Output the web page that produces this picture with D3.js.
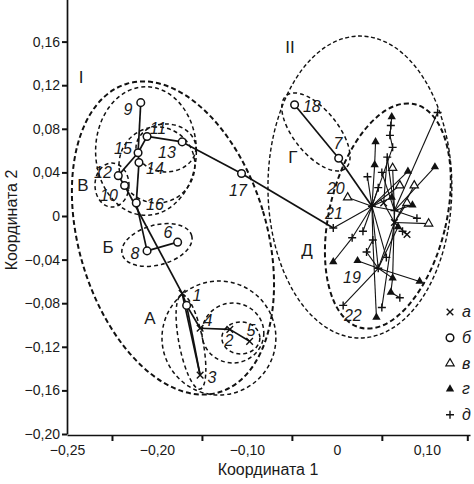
<!DOCTYPE html>
<html>
<head>
<meta charset="utf-8">
<script src="https://cdn.jsdelivr.net/npm/d3@7"></script>
<style>
  body { margin: 0; background: #fff; }
  svg { font-family: "Liberation Sans", Arial, sans-serif; }
</style>
</head>
<body>
<svg id="chart" width="474" height="484"></svg>
<script>
// axis ticks (the x labels sit half a step off the tick marks, as in the source figure)
var xTickValues = [-0.30, -0.20, -0.10, 0, 0.10];
var xTickLabels = ["−0,25", "−0,20", "−0,10", "0", "0,10"];
var xMarkTicks = [-0.25, -0.15, -0.05, 0.05, 0.145];
var yTickValues = [0.16, 0.12, 0.08, 0.04, 0, -0.04, -0.08, -0.12, -0.16, -0.20];
var yTickLabels = ["0,16", "0,12", "0,08", "0,04", "0", "−0,04", "−0,08", "−0,12", "−0,16", "−0,20"];

// marker types: a = ×, b = o, v = open triangle, g = filled triangle, d = +
var legendKeys = ["a", "b", "v", "g", "d"];
var legendLabels = ["а", "б", "в", "г", "д"];

// [id, type, coord 1, coord 2]
var points = [
  ["p1", "a", -0.172, -0.071], ["c1", "b", -0.167, -0.082],
  ["p2", "a", -0.119, -0.104], ["p3", "a", -0.152, -0.146],
  ["p4", "a", -0.152, -0.103], ["p5", "a", -0.097, -0.115],
  ["p6", "b", -0.177, -0.024], ["p7", "b", 0.002, 0.053],
  ["p8", "b", -0.211, -0.032], ["p9", "b", -0.218, 0.104],
  ["p10", "b", -0.236, 0.028], ["p11", "b", -0.211, 0.073],
  ["p12", "b", -0.243, 0.037], ["p13", "b", -0.172, 0.068],
  ["p14", "b", -0.220, 0.049], ["p15", "b", -0.221, 0.058],
  ["p16", "b", -0.223, 0.012], ["p17", "b", -0.106, 0.039],
  ["p18", "b", -0.047, 0.102], ["p19", "d", 0.046, -0.048],
  ["p20", "v", 0.012, 0.017], ["p21", "d", -0.004, -0.011],
  ["p22", "d", 0.007, -0.082],
  ["hA", "d", 0.039, 0.009], ["hB", "d", 0.064, 0.005], ["hD", "a", 0.064, -0.006],
  ["r1", "g", 0.061, 0.091], ["r2", "d", 0.059, 0.074], ["r3", "d", 0.062, 0.063],
  ["r4", "g", 0.043, 0.068], ["r5", "d", 0.056, 0.054], ["r6", "g", 0.042, 0.047],
  ["r7", "v", 0.062, 0.044], ["r8", "g", 0.079, 0.041], ["r9", "d", 0.112, 0.095],
  ["r10", "g", 0.109, 0.045], ["r11", "v", 0.070, 0.028], ["r12", "v", 0.086, 0.028],
  ["r13", "d", 0.034, 0.036], ["r14", "g", 0.084, 0.010], ["r15", "g", 0.061, 0.017],
  ["r16", "v", 0.102, -0.007], ["r17", "a", 0.078, -0.017], ["r18", "d", 0.073, -0.014],
  ["r19", "g", -0.004, -0.042], ["r20", "d", 0.017, -0.020], ["r21", "g", 0.023, -0.041],
  ["r22", "g", 0.092, -0.060], ["r23", "g", 0.044, -0.093], ["r24", "d", 0.050, -0.084],
  ["r25", "g", 0.060, -0.070], ["r26", "d", 0.070, -0.075], ["r27", "g", 0.062, -0.057],
  ["r28", "d", 0.033, -0.033], ["r29", "d", 0.040, -0.022],
  ["r30", "d", 0.050, 0.040], ["r31", "d", 0.046, 0.026], ["r32", "v", 0.078, 0.012],
  ["r33", "g", 0.068, -0.010], ["r34", "d", 0.029, -0.014], ["r35", "d", 0.089, -0.002],
  ["r36", "d", 0.060, 0.083], ["r37", "d", 0.055, -0.038], ["r38", "a", 0.052, 0.012]
];

// links between groups I (left) and inside cluster Д
var mainEdges = [
  ["p9", "p15"], ["p15", "p14"], ["p14", "p16"], ["p12", "p15"], ["p15", "p11"],
  ["p11", "p13"], ["p13", "p17"], ["p17", "p21"], ["p12", "p10"], ["p10", "p1"],
  ["p1", "c1"], ["c1", "p3"], ["p1", "p3"], ["c1", "p4"], ["p4", "p2"], ["p2", "p5"],
  ["p16", "p8"], ["p8", "p6"], ["p18", "p7"], ["p7", "hA"]
];
var clusterEdges = [
  ["p21", "hA"], ["p20", "hA"], ["r6", "hA"], ["r4", "r6"], ["r13", "hA"],
  ["r1", "r2"], ["r2", "r3"], ["r3", "hA"], ["r5", "hB"], ["r7", "hB"],
  ["r15", "hA"], ["r8", "hA"], ["r9", "hB"], ["r10", "hB"], ["r11", "hA"],
  ["r12", "hD"], ["r14", "hB"], ["r16", "hD"], ["r17", "hD"], ["r18", "r17"],
  ["hA", "hB"], ["hB", "hD"], ["r19", "r20"], ["r20", "hA"], ["hA", "r29"],
  ["r29", "r28"], ["r28", "p19"], ["p19", "r21"], ["p19", "r22"], ["p19", "p22"],
  ["p19", "r27"], ["r27", "r25"], ["r25", "r26"], ["r23", "r29"], ["r24", "hD"],
  ["hD", "p19"], ["r30", "hB"], ["r31", "hA"], ["r32", "hD"], ["r33", "p19"],
  ["r34", "hA"], ["r35", "hB"], ["hA", "p19"], ["hB", "r27"], ["r37", "hA"],
  ["r38", "hD"], ["r5", "r38"]
];

// [text, coord 1, coord 2]
var pointLabels = [
  ["1", -0.1556, -0.0725], ["2", -0.120, -0.1138], ["3", -0.1389, -0.1477],
  ["4", -0.1433, -0.0954], ["5", -0.0956, -0.1046], ["6", -0.1878, -0.0147],
  ["7", 0.0011, 0.067], ["8", -0.2244, -0.0339], ["9", -0.2322, 0.0982],
  ["10", -0.2533, 0.0193], ["11", -0.1989, 0.0807], ["12", -0.260, 0.0404],
  ["13", -0.1889, 0.0587], ["14", -0.2022, 0.044], ["15", -0.2378, 0.0624],
  ["16", -0.2022, 0.011], ["17", -0.110, 0.0239], ["18", -0.0278, 0.1009],
  ["19", 0.0167, -0.056], ["20", -0.0011, 0.0257], ["21", -0.0033, 0.0028],
  ["22", 0.0178, -0.0908]
];
var groupLetters = [
  ["I", -0.2844, 0.1275], ["II", -0.0522, 0.155], ["В", -0.2822, 0.0284],
  ["Б", -0.2544, -0.0284], ["А", -0.2078, -0.0936], ["Г", -0.0489, 0.0541],
  ["Д", -0.0333, -0.0312]
];

// group outlines: centre, radii (data units), rotation (deg), outline weight
var ellipses = [
  { cx: -0.1822, cy: -0.0202, rx: 0.1044, ry: 0.1477, rot: -16.6, w: "heavy" },
  { cx: -0.2122, cy: 0.0596, rx: 0.0560, ry: 0.0590, rot: 0, w: "mid" },
  { cx: -0.190, cy: 0.0624, rx: 0.0333, ry: 0.0220, rot: 0, w: "mid" },
  { cx: -0.200, cy: 0.0468, rx: 0.0422, ry: 0.0349, rot: 0, w: "mid" },
  { cx: -0.250, cy: 0.0284, rx: 0.0189, ry: 0.0202, rot: 0, w: "mid" },
  { cx: -0.200, cy: -0.0266, rx: 0.0400, ry: 0.0183, rot: -15, w: "mid" },
  { cx: -0.1311, cy: -0.1119, rx: 0.0633, ry: 0.0523, rot: 0, w: "mid" },
  { cx: -0.1156, cy: -0.1073, rx: 0.0344, ry: 0.0275, rot: 0, w: "mid" },
  { cx: -0.1067, cy: -0.1119, rx: 0.0211, ry: 0.0147, rot: 0, w: "mid" },
  { cx: -0.1622, cy: -0.1156, rx: 0.0133, ry: 0.0440, rot: -11, w: "mid" },
  { cx: 0.0256, cy: 0.0266, rx: 0.1022, ry: 0.1385, rot: 0, w: "thin" },
  { cx: 0.0567, cy: 0.0000, rx: 0.0650, ry: 0.1055, rot: 13.6, w: "heavy" },
  { cx: -0.0233, cy: 0.0771, rx: 0.0522, ry: 0.0202, rot: 51, w: "mid" }
];

var svg = d3.select("#chart");

var x = d3.scaleLinear().domain([-0.30, 0.148]).range([67, 470]);
var y = d3.scaleLinear().domain([-0.20, 0.20]).range([434, -2]);

var byId = {};
points.forEach(function(p) { byId[p[0]] = p; });

var strokeW = { heavy: 2, mid: 1.5, thin: 1.4 };
var dashes = { heavy: "5,3", mid: "4,3", thin: "4,2.5" };

// dashed group outlines
svg.append("g").selectAll("ellipse")
  .data(ellipses)
  .enter()
  .append("ellipse")
  .attr("transform", d => `translate(${x(d.cx)},${y(d.cy)}) rotate(${d.rot})`)
  .attr("rx", d => x(d.rx) - x(0))
  .attr("ry", d => y(0) - y(d.ry))
  .attr("fill", "none")
  .attr("stroke", "#111")
  .attr("stroke-width", d => strokeW[d.w])
  .attr("stroke-dasharray", d => dashes[d.w]);

// axes
var xAxisG = svg.append("g").attr("transform", "translate(0,435)");
xAxisG.call(d3.axisBottom(x)
  .tickValues(xTickValues)
  .tickFormat((d, i) => xTickLabels[i])
  .tickSize(0).tickSizeOuter(0).tickPadding(10));
xAxisG.append("g").call(d3.axisBottom(x)
  .tickValues(xMarkTicks).tickFormat("").tickSize(6).tickSizeOuter(0))
  .select(".domain").remove();

var yAxisG = svg.append("g").attr("transform", "translate(67,0)");
yAxisG.call(d3.axisLeft(y)
  .tickValues(yTickValues)
  .tickFormat((d, i) => yTickLabels[i])
  .tickSize(5).tickSizeOuter(0).tickPadding(2));

svg.selectAll(".domain").attr("stroke", "#111").attr("stroke-width", 1.7);
svg.selectAll(".tick line").attr("stroke", "#111").attr("stroke-width", 2);
svg.selectAll(".tick text")
  .attr("font-family", "Liberation Sans, Arial, sans-serif")
  .attr("font-size", 14).attr("fill", "#1a1a1a");

svg.append("text")
  .attr("x", 268).attr("y", 475)
  .attr("text-anchor", "middle")
  .attr("font-size", 16).attr("fill", "#1a1a1a")
  .text("Координата 1");

svg.append("text")
  .attr("transform", "translate(17,220) rotate(-90)")
  .attr("text-anchor", "middle")
  .attr("font-size", 16).attr("fill", "#1a1a1a")
  .text("Координата 2");

// connecting lines
function drawEdges(list, width) {
  svg.append("g").selectAll("line")
    .data(list)
    .enter()
    .append("line")
    .attr("x1", d => x(byId[d[0]][2]))
    .attr("y1", d => y(byId[d[0]][3]))
    .attr("x2", d => x(byId[d[1]][2]))
    .attr("y2", d => y(byId[d[1]][3]))
    .attr("stroke", "#111")
    .attr("stroke-width", width);
}
drawEdges(clusterEdges, 1.1);
drawEdges(mainEdges, 1.7);

// markers
var tri = d3.symbol().type(d3.symbolTriangle).size(30)();
function drawMarker(g, type) {
  if (type === "b") {
    g.append("circle").attr("r", 3.8)
      .attr("fill", "#fff").attr("stroke", "#111").attr("stroke-width", 1.5);
  } else if (type === "a") {
    g.append("path").attr("d", "M-3.3,-3.3L3.3,3.3M-3.3,3.3L3.3,-3.3")
      .attr("stroke", "#111").attr("stroke-width", 1.4);
  } else if (type === "d") {
    g.append("path").attr("d", "M-4,0H4M0,-4V4")
      .attr("stroke", "#111").attr("stroke-width", 1.4);
  } else if (type === "v") {
    g.append("path").attr("d", tri)
      .attr("fill", "#fff").attr("stroke", "#111").attr("stroke-width", 1.2);
  } else {
    g.append("path").attr("d", tri).attr("fill", "#111");
  }
}

svg.append("g").selectAll("g")
  .data(points)
  .enter()
  .append("g")
  .attr("transform", d => `translate(${x(d[2])},${y(d[3])})`)
  .each(function(d) { drawMarker(d3.select(this), d[1]); });

// number labels
svg.append("g").selectAll("text")
  .data(pointLabels)
  .enter()
  .append("text")
  .attr("x", d => x(d[1]))
  .attr("y", d => y(d[2]))
  .attr("dy", "0.36em")
  .attr("text-anchor", "middle")
  .attr("font-size", 16)
  .attr("font-style", "italic")
  .attr("fill", "#1a1a1a")
  .text(d => d[0]);

// group names
svg.append("g").selectAll("text")
  .data(groupLetters)
  .enter()
  .append("text")
  .attr("x", d => x(d[1]))
  .attr("y", d => y(d[2]))
  .attr("dy", "0.36em")
  .attr("text-anchor", "middle")
  .attr("font-size", 17)
  .attr("fill", "#1a1a1a")
  .text(d => d[0]);

// legend
var legend = svg.append("g").selectAll("g")
  .data(legendKeys)
  .enter()
  .append("g")
  .attr("transform", (d, i) => `translate(450,${312 + i * 25.7})`);
legend.each(function(d) { drawMarker(d3.select(this), d); });
legend.append("text")
  .attr("x", 12).attr("dy", "0.33em")
  .attr("font-size", 16).attr("font-style", "italic")
  .attr("fill", "#1a1a1a")
  .text((d, i) => legendLabels[i]);
</script>
</body>
</html>
